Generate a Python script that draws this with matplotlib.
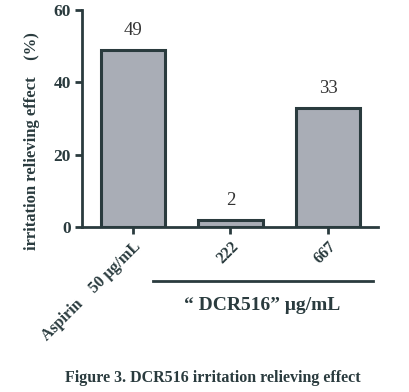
import matplotlib
matplotlib.use("Agg")
import matplotlib.pyplot as plt

groups = ["Aspirin    50 \u03bcg/mL", "222", "667"]
effect = [49, 2, 33]
value_labels = ["49", "2", "33"]
y_ticks = [0, 20, 40, 60]

plt.rcParams['font.family'] = ['Liberation Serif', 'DejaVu Serif']

edge = '#2a3b3e'
fill = '#a9adb6'

fig = plt.figure(figsize=(4.10, 3.92), dpi=100)
ax = fig.add_axes([0.2, 0.421, 0.722, 0.554])

x = list(range(len(groups)))
ax.bar(x, effect, width=0.66, color=fill, edgecolor=edge, linewidth=2.2, zorder=2)

for xi, v, lab in zip(x, effect, value_labels):
    ax.text(xi, v + 3, lab, ha='center', va='bottom', fontsize=13.5, color='#333333')

ax.set_xlim(-0.52, 2.51)
ax.set_ylim(0, 60)
ax.set_yticks(y_ticks)
ax.set_xticks(x)
ax.set_xticklabels(groups, rotation=45, ha='right', rotation_mode='anchor',
                   fontsize=11.5, fontweight='bold', color='#2a3b3e')
for lab in ax.get_yticklabels():
    lab.set_fontweight('bold')
    lab.set_fontsize(12.5)
    lab.set_color('#2a3b3e')

for side in ['top', 'right']:
    ax.spines[side].set_visible(False)
for side in ['left', 'bottom']:
    ax.spines[side].set_linewidth(2)
    ax.spines[side].set_color(edge)
ax.tick_params(axis='both', direction='out', length=5, width=2, color=edge, pad=3)

ax.set_ylabel('irritation relieving effect    (%)', fontsize=12, fontweight='bold',
              color='#2a3b3e')
ax.yaxis.set_label_coords(-0.142, 0.396)

# bracket line and group label under the DCR516 bars
fig.add_artist(plt.Line2D([153 / 410, 373 / 410], [1 - 281 / 392, 1 - 281 / 392],
                          color=edge, linewidth=2))
fig.text(262 / 410, 1 - 306 / 392, '\u201c DCR516\u201d \u03bcg/mL', ha='center', va='center',
         fontsize=14, fontweight='bold', color='#2a3b3e')

fig.text(213 / 410, 1 - 378 / 392, 'Figure 3. DCR516 irritation relieving effect',
         ha='center', va='center', fontsize=11.5, fontweight='bold', color='#2a3b3e')

fig.savefig('out.png', dpi=100)
